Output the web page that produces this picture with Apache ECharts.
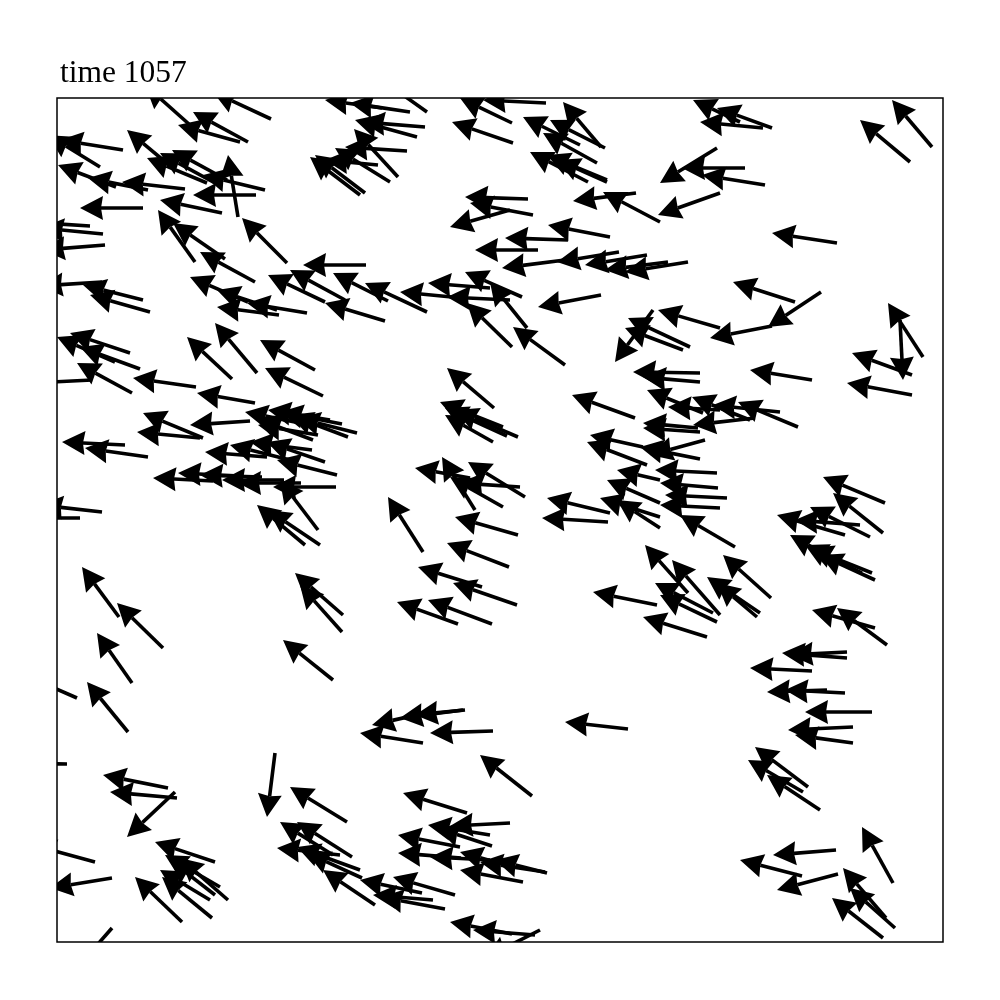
<!DOCTYPE html>
<html>
<head>
<meta charset="utf-8">
<script src="https://cdn.jsdelivr.net/npm/echarts@6/dist/echarts.min.js"></script>
<style>html,body{margin:0;padding:0;background:#fff;}#chart{width:1000px;height:1000px;}</style>
</head>
<body>
<div id="chart"></div>
<script>
// Quiver data: arrow tip position (x, y) and velocity vector (u, v); arrows drawn with pivot at tip.
const titleText = 'time 1057';
const arrowX = [145,178,193,213,60,48,58,88,122,127,147,160,172,160,193,203,228,80,28,41,42,158,173,200,242,190,217,217,268,290,303,333,325,310,83,90,40,57,70,80,187,215,260,247,365,
325,362,355,345,354,335,315,350,325,375,
460,483,452,523,550,563,543,530,547,557,465,470,450,573,603,505,548,475,502,557,585,605,625,538,400,428,447,465,490,467,513,447,615,628,625,633,
693,700,717,892,860,660,682,702,658,772,733,768,710,658,888,903,852,750,847,
30,77,133,197,265,245,255,268,280,290,297,258,190,143,137,62,85,205,230,250,267,277,153,178,200,222,238,273,257,268,280,40,17,82,117,97,295,300,283,
440,445,455,445,415,442,450,468,460,388,455,447,418,453,397,428,572,590,587,547,542,593,617,607,600,617,640,643,
643,647,668,692,713,738,643,693,650,655,660,665,660,680,645,672,723,707,717,655,660,643,823,833,810,777,790,805,810,820,795,812,837,782,
20,87,5,103,110,127,33,50,155,165,170,180,160,135,162,70,267,290,280,297,277,297,323,307,
360,372,400,415,430,565,480,403,398,428,437,450,398,430,460,480,495,460,393,360,373,380,450,473,485,
750,790,767,785,805,788,795,755,748,767,740,773,777,862,843,850,832];
const arrowY = [915,875,888,908,860,865,835,822,818,870,842,847,850,800,805,825,845,792,778,772,750,790,777,748,782,723,710,693,725,730,735,727,697,843,715,705,714,663,667,653,663,677,660,697,717,
900,878,880,853,871,852,845,897,840,925,
902,900,878,883,880,898,867,848,845,840,803,797,773,799,808,762,775,750,732,738,735,730,728,693,708,717,703,728,718,697,673,632,638,682,672,628,
900,878,892,900,880,817,832,825,785,767,718,673,662,690,697,620,647,630,617,
617,637,622,607,632,588,582,590,588,585,582,575,575,587,568,558,552,548,555,558,558,540,522,527,525,520,517,513,495,490,520,495,482,433,397,367,427,415,360,
598,592,590,585,532,543,523,538,517,503,483,457,433,417,398,400,605,565,558,502,482,408,530,520,502,500,553,577,
623,610,593,603,595,598,572,575,545,530,517,505,495,485,455,440,445,423,417,417,405,383,523,507,493,485,465,455,452,445,480,390,392,347,
327,318,237,225,208,163,155,112,158,145,140,142,130,123,123,24,183,213,178,178,152,153,130,147,
267,275,282,285,267,278,245,207,165,175,172,174,147,143,148,138,140,130,123,120,105,103,78,70,42,
332,345,308,310,288,270,265,253,240,225,140,145,110,173,132,112,102];
const arrowU = [-45,-62,-55,-58,-63,-52,-58,-60,-63,-48,-60,-55,-55,-62,-63,-62,-10,-63,-62,-62,-63,-37,-52,-55,-45,-58,-60,-62,-57,-55,-63,-55,-60,-50,-60,-60,-62,-58,-60,-60,-45,-42,-55,-60,-62,
-57,-63,-62,-62,-44,-55,-50,-60,-53,-52,
-52,-63,-61,-57,-55,-38,-54,-58,-60,-50,-63,-63,-60,-63,-57,-63,-62,-63,-63,-62,-62,-63,-63,-63,-62,-62,-63,-57,-37,-45,-52,-47,-38,-62,-58,-67,
-47,-63,-55,-40,-50,-57,-63,-63,-62,-65,-62,-53,-62,-62,-35,3,-60,-62,-65,
-62,-55,-63,-58,-58,-60,-58,-62,-62,-58,-60,-60,-60,-60,-63,-63,-63,-62,-60,-62,-58,-60,-60,-62,-62,-62,-63,-63,-48,-52,-38,-62,-63,-37,-46,-35,-48,-42,-50,
-63,-62,-63,-48,-55,-33,-53,-57,-60,-35,-63,-62,-64,-64,-61,-64,-63,-53,-60,-63,-66,-64,-43,-53,-60,-43,-60,-55,
-57,-56,-52,-58,-67,-60,-57,-62,-55,-62,-58,-62,-60,-55,-43,-48,-48,-53,-40,-58,-57,-64,-62,-50,-60,-68,-55,-57,-62,-55,-65,-63,-50,-65,
-57,-41,-62,-65,-67,-48,-62,-62,-60,-55,-45,-48,-50,-47,-50,-42,-8,-57,-53,-55,-63,-63,-52,-55,
-63,-62,-63,-50,-63,-63,-52,-64,-62,-62,-55,-60,-63,-60,-53,-65,-52,-63,-62,-62,-60,-65,-62,-62,-55,
-62,-57,-60,-60,-67,-65,-58,-53,-55,-53,-62,-63,-61,-31,-43,-45,-51];
const arrowV = [40,17,30,27,10,32,22,12,7,40,25,30,30,13,0,15,62,0,4,6,-5,52,36,30,45,25,20,8,27,30,0,28,18,38,15,17,-4,25,20,22,42,50,30,10,29,
8,5,17,4,48,34,38,9,5,37,
25,3,21,28,28,45,30,30,25,22,2,12,-17,-8,30,2,12,0,-8,-10,-10,-8,-10,-12,6,5,3,25,46,44,38,40,-52,29,22,1,
22,6,20,47,42,-35,0,10,-22,10,20,-35,-12,18,54,-60,22,10,12,
-3,30,9,10,28,12,22,10,12,22,15,10,-4,25,6,3,9,5,15,8,20,15,3,3,2,0,0,0,40,35,50,7,0,50,45,50,42,47,40,
25,28,27,27,10,53,30,35,4,55,18,24,20,22,22,24,23,12,23,15,4,13,10,23,19,28,12,5,
5,23,3,23,7,25,4,-7,-15,3,5,3,3,32,48,55,43,36,34,30,27,20,26,40,30,20,30,28,25,25,5,18,37,5,
25,50,1,13,6,-45,17,-10,20,32,35,42,30,45,41,-48,-64,35,33,35,7,23,35,25,
10,-14,-8,-5,-2,7,41,20,12,10,18,-3,5,3,15,10,13,12,18,13,5,12,12,5,-28,
3,-3,-2,3,0,-3,8,40,32,35,16,-5,-16,56,50,40,40];

const HEAD_LEN = 23, HEAD_HALF = 12, NOTCH = 2, SHAFT = 3.6;

function renderArrow(params, api) {
  const x = api.value(0), y = api.value(1), u = api.value(2), v = api.value(3);
  const tip = api.coord([x, y]);
  const tail = api.coord([x - u, y - v]);
  const dx = tip[0] - tail[0], dy = tip[1] - tail[1];
  const len = Math.sqrt(dx * dx + dy * dy) || 1;
  const ux = dx / len, uy = dy / len;
  const px = -uy, py = ux;
  const bx = tip[0] - ux * HEAD_LEN, by = tip[1] - uy * HEAD_LEN;
  const nx = tip[0] - ux * (HEAD_LEN - NOTCH), ny = tip[1] - uy * (HEAD_LEN - NOTCH);
  const h = SHAFT / 2;
  const cs = params.coordSys;
  return {
    type: 'group',
    clipPath: { type: 'rect', shape: { x: cs.x, y: cs.y, width: cs.width, height: cs.height } },
    children: [
      {
        type: 'polygon',
        shape: { points: [
          [tail[0] + px * h, tail[1] + py * h],
          [nx + px * h, ny + py * h],
          [nx - px * h, ny - py * h],
          [tail[0] - px * h, tail[1] - py * h]
        ] },
        style: { fill: '#000' }
      },
      {
        type: 'polygon',
        shape: { points: [
          [tip[0], tip[1]],
          [bx + px * HEAD_HALF, by + py * HEAD_HALF],
          [nx, ny],
          [bx - px * HEAD_HALF, by - py * HEAD_HALF]
        ] },
        style: { fill: '#000' }
      }
    ]
  };
}

const data = arrowX.map((x, i) => [x, arrowY[i], arrowU[i], arrowV[i]]);

const chart = echarts.init(document.getElementById('chart'), null, { renderer: 'canvas' });
chart.setOption({
  animation: false,
  backgroundColor: '#fff',
  title: {
    text: titleText,
    left: 55,
    top: 53,
    textStyle: { fontFamily: '"Liberation Serif", "DejaVu Serif", serif', fontSize: 31.5, fontWeight: 'normal', color: '#000' }
  },
  grid: { left: 57, right: 57, top: 98, bottom: 58, show: true, borderColor: '#000', borderWidth: 1.5, backgroundColor: 'transparent' },
  xAxis: { type: 'value', min: 57, max: 943, show: false },
  yAxis: { type: 'value', min: 58, max: 902, show: false },
  series: [{
    type: 'custom',
    renderItem: renderArrow,
    data: data,
    z: 2
  }]
});
</script>
</body>
</html>
